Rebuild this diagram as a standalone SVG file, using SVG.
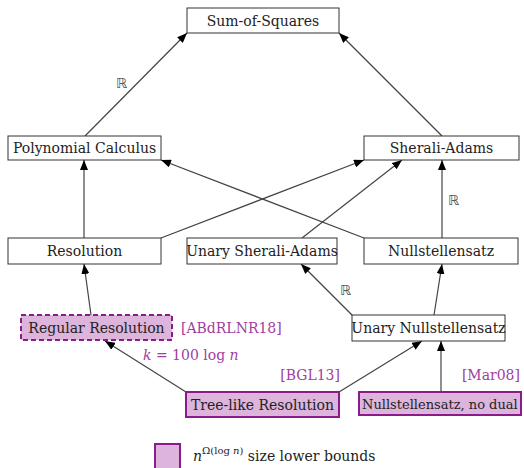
<svg xmlns="http://www.w3.org/2000/svg" width="524" height="468" viewBox="0 0 524 468">
  <defs>
    <marker id="arrow" markerWidth="10" markerHeight="8" refX="10" refY="4" orient="auto" markerUnits="userSpaceOnUse">
      <path d="M0,0 L10,4 L0,8 Z" fill="#000"/>
    </marker>
    <style>
      .box { fill: #fff; stroke: #333; stroke-width: 1; }
      .lb { fill: #dcb4dc; stroke: #8b1a8b; stroke-width: 2; }
      .dash { fill: #dcb4dc; stroke: #8b1a8b; stroke-width: 2; stroke-dasharray: 5 3; }
      text { font-family: 'DejaVu Serif', 'Liberation Serif', serif; }
      .t { font-size: 14px; fill: #222; text-anchor: middle; }
      .ref { font-size: 14px; fill: #a33ca3; }
      .real { font-family: 'DejaVu Sans', sans-serif; font-size: 14px; fill: #555; }
      .edge { stroke: #444; stroke-width: 1.2; fill: none; marker-end: url(#arrow); }
    </style>
  </defs>

  <g id="edges">
    <line class="edge" x1="85" y1="136" x2="187" y2="33"/>
    <line class="edge" x1="442" y1="136" x2="339" y2="33"/>
    <line class="edge" x1="84" y1="238" x2="84" y2="160"/>
    <line class="edge" x1="161" y1="238" x2="364" y2="160"/>
    <line class="edge" x1="364" y1="238" x2="161" y2="160"/>
    <line class="edge" x1="302" y1="238" x2="402" y2="160"/>
    <line class="edge" x1="442" y1="238" x2="442" y2="160"/>
    <line class="edge" x1="91" y1="315" x2="84" y2="264"/>
    <line class="edge" x1="352" y1="315" x2="301" y2="264"/>
    <line class="edge" x1="434" y1="315" x2="442" y2="264"/>
    <line class="edge" x1="186" y1="392" x2="105" y2="341"/>
    <line class="edge" x1="339" y1="392" x2="422" y2="341"/>
    <line class="edge" x1="441" y1="392" x2="441" y2="341"/>
    <text class="real" x="116" y="88">ℝ</text>
    <text class="real" x="448" y="205">ℝ</text>
    <text class="real" x="340" y="295">ℝ</text>
    <text class="ref" x="143" y="360"><tspan font-style="italic">k</tspan> = 100 log <tspan font-style="italic">n</tspan></text>
    <text class="ref" x="181" y="333">[ABdRLNR18]</text>
    <text class="ref" x="340" y="380" text-anchor="end">[BGL13]</text>
    <text class="ref" x="520" y="380" text-anchor="end">[Mar08]</text>
  </g>

  <g id="sos">
    <rect class="box" x="187" y="8" width="152" height="25"/>
    <text class="t" x="263" y="25.5">Sum-of-Squares</text>
  </g>
  <g id="pc">
    <rect class="box" x="8" y="136" width="153" height="24"/>
    <text class="t" x="84.5" y="153">Polynomial Calculus</text>
  </g>
  <g id="sa">
    <rect class="box" x="364" y="136" width="155" height="24"/>
    <text class="t" x="441.5" y="153">Sherali-Adams</text>
  </g>
  <g id="res">
    <rect class="box" x="8" y="238" width="153" height="26"/>
    <text class="t" x="84.5" y="256">Resolution</text>
  </g>
  <g id="usa">
    <rect class="box" x="187" y="238" width="150" height="26"/>
    <text class="t" x="262" y="256">Unary Sherali-Adams</text>
  </g>
  <g id="ns">
    <rect class="box" x="364" y="238" width="154" height="26"/>
    <text class="t" x="441" y="256">Nullstellensatz</text>
  </g>
  <g id="regres">
    <rect class="dash" x="21" y="315" width="151" height="25"/>
    <text class="t" x="96.5" y="332.5">Regular Resolution</text>
  </g>
  <g id="uns">
    <rect class="box" x="352" y="315" width="153" height="26"/>
    <text class="t" x="428.5" y="333">Unary Nullstellensatz</text>
  </g>
  <g id="tree">
    <rect class="lb" x="186" y="392" width="153" height="25"/>
    <text class="t" x="262.5" y="409.5">Tree-like Resolution</text>
  </g>
  <g id="nsnd">
    <rect class="lb" x="359" y="392" width="162" height="23"/>
    <text class="t" x="362" y="408.5" style="text-anchor:start;font-size:13px">Nullstellensatz, no dual</text>
  </g>
  <g id="legend">
    <rect class="lb" x="155" y="444" width="25" height="26"/>
    <text class="t" x="193" y="461" style="text-anchor:start"><tspan font-style="italic">n</tspan><tspan font-size="10" dy="-7">Ω(log <tspan font-style="italic">n</tspan>)</tspan><tspan dy="7"> size lower bounds</tspan></text>
  </g>
</svg>
